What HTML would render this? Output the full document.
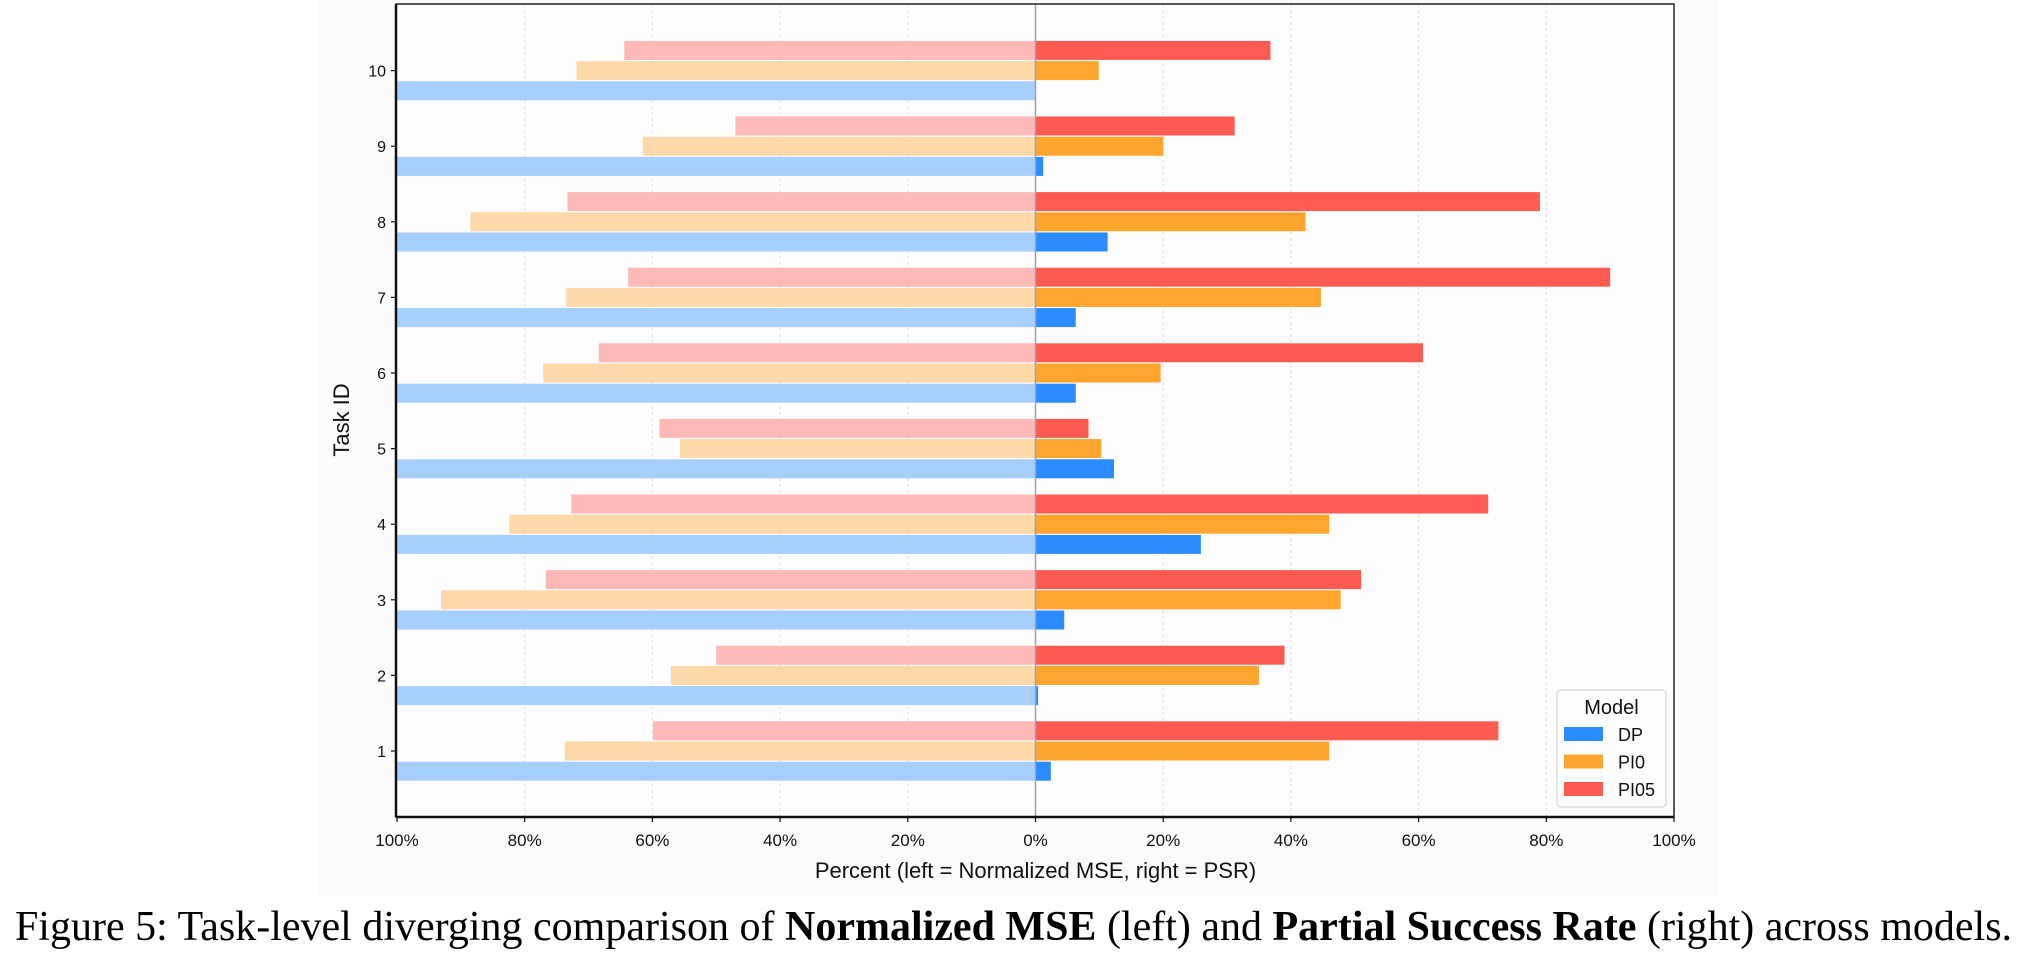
<!DOCTYPE html>
<html><head><meta charset="utf-8"><style>
body{margin:0;background:#fff;width:2027px;height:976px;overflow:hidden}
svg text{font-family:"Liberation Sans",sans-serif}
.cap{position:absolute;left:0;top:903px;width:2027px;text-align:center;font-family:"Liberation Serif",serif;font-size:42px;color:#000;white-space:nowrap}
</style></head><body>
<svg id="chart" width="2027" height="900" style="position:absolute;left:0;top:0">
<rect x="318" y="0" width="1400" height="895" fill="#fbfbfb"/>
<rect x="396" y="4" width="1278" height="813" fill="#fdfdfd"/>
<g id="grid"></g><g id="bars"></g><g id="axes"></g>
</svg>
<div class="cap">Figure 5: Task-level diverging comparison of <b>Normalized MSE</b> (left) and <b>Partial Success Rate</b> (right) across models.</div>
<script>
const tasks=[1,2,3,4,5,6,7,8,9,10];
const mseDP=[100,100,100,100,100,100,100,100,100,100];
const msePI0=[73.7,57.1,93.1,82.4,55.7,77.1,73.5,88.5,61.5,71.9];
const msePI05=[59.9,50,76.7,72.7,58.9,68.4,63.8,73.3,47,64.4];
const psrDP=[2.4,0.4,4.5,25.9,12.3,6.3,6.3,11.3,1.2,0];
const psrPI0=[46,35,47.8,46,10.3,19.6,44.7,42.3,20,9.9];
const psrPI05=[72.5,39,51,70.9,8.3,60.7,90,79,31.2,36.8];
const xTicks=[-100,-80,-60,-40,-20,0,20,40,60,80,100];
const NS='http://www.w3.org/2000/svg';
const x0=1035.5,L=396,R=1674,T=4,B=817;
const xs=v=>x0+v*(R-x0)/100;
const ys=t=>751-(t-1)*75.6;
const bh=20.2;
function mk(tag,attrs,par){const e=document.createElementNS(NS,tag);for(const k in attrs)e.setAttribute(k,attrs[k]);document.getElementById(par).appendChild(e);return e;}
xTicks.forEach(v=>{if(v!==0&&Math.abs(v)!==100){const g=mk('line',{x1:xs(v),x2:xs(v),y1:T,y2:B,stroke:'#ddd','stroke-dasharray':'3,3'},'grid');

}});
const series=[
 {l:mseDP,r:psrDP,off:bh,lc:'#a6cffb',rc:'#2a8bff',n:'dp'},
 {l:msePI0,r:psrPI0,off:0,lc:'#fdd8a8',rc:'#ffa42c',n:'pi0'},
 {l:msePI05,r:psrPI05,off:-bh,lc:'#fdb8b8',rc:'#ff5a52',n:'pi05'}];
series.forEach(s=>{tasks.forEach((t,i)=>{
 const yc=ys(t)+s.off;
 const a=mk('rect',{x:xs(-s.l[i]),y:yc-bh/2+0.6,width:xs(0)-xs(-s.l[i]),height:bh-1.2,fill:s.lc},'bars');
 
 
 const b=mk('rect',{x:xs(0),y:yc-bh/2+0.6,width:xs(s.r[i])-xs(0),height:bh-1.2,fill:s.rc},'bars');
 
 
});});
let z=mk('line',{x1:x0,x2:x0,y1:T,y2:B,stroke:'#9aa3b5','stroke-width':1.5},'axes');


let fr=mk('rect',{x:L,y:T,width:R-L,height:B-T,fill:'none',stroke:'#222','stroke-width':1.5},'axes');


let bx=mk('line',{x1:L,x2:R,y1:B,y2:B,stroke:'#111','stroke-width':2.5},'axes');


let lx=mk('line',{x1:L,x2:L,y1:T,y2:B,stroke:'#111','stroke-width':2.5},'axes');


xTicks.forEach(v=>{
 const tk=mk('line',{x1:xs(v),x2:xs(v),y1:B,y2:B+5,stroke:'#111','stroke-width':1.2},'axes');
 
 
 const tx=mk('text',{x:xs(v),y:B+29,'text-anchor':'middle','font-size':17,fill:'#111'},'axes');
 tx.textContent=Math.abs(v)+'%';
 
 });
tasks.forEach(t=>{
 const tk=mk('line',{x1:L-5,x2:L,y1:ys(t),y2:ys(t),stroke:'#111','stroke-width':1.2},'axes');
 
 
 const tx=mk('text',{x:L-10,y:ys(t)+6,'text-anchor':'end','font-size':16,fill:'#111'},'axes');
 tx.textContent=t;
 
 });
let xl=mk('text',{x:x0,y:878,'text-anchor':'middle','font-size':22,fill:'#111'},'axes');
xl.textContent='Percent (left = Normalized MSE, right = PSR)';


let yl=mk('text',{x:0,y:0,'text-anchor':'middle','font-size':22,fill:'#111',transform:'translate(349,420) rotate(-90)'},'axes');
yl.textContent='Task ID';


let lg=mk('rect',{x:1557,y:690,width:109,height:117,rx:4,fill:'#fdfdfd',stroke:'#d5d5d5','stroke-width':1.2},'axes');


let lt=mk('text',{x:1611.5,y:714,'text-anchor':'middle','font-size':20,fill:'#111'},'axes');
lt.textContent='Model';


[['DP','#2a8bff'],['PI0','#ffa42c'],['PI05','#ff5a52']].forEach((d,i)=>{
 const p=mk('rect',{x:1564,y:727+i*27.5,width:39,height:14,fill:d[1]},'axes');
 
 
 const tx=mk('text',{x:1618,y:741+i*27.5,'font-size':18,fill:'#111'},'axes');
 tx.textContent=d[0];
 
 });
</script>
</body></html>
